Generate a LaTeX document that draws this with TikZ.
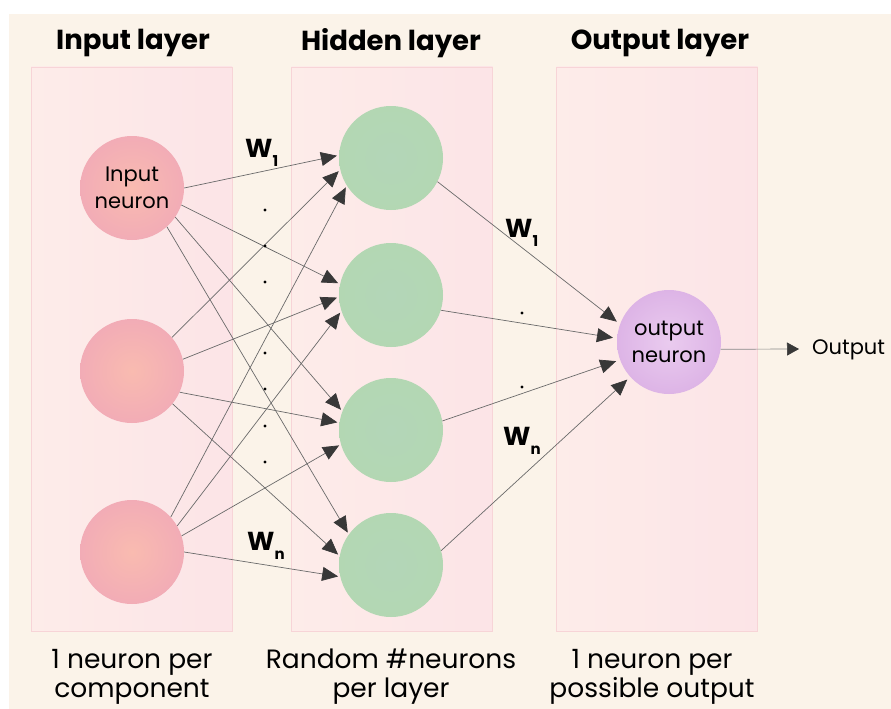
\documentclass[tikz,border=0pt]{standalone}
\usepackage{fontspec}
\setmainfont{Poppins}
\usetikzlibrary{arrows.meta}
\definecolor{bgc}{HTML}{FBF3E9}
\definecolor{panelL}{HTML}{FDECE9}
\definecolor{panelR}{HTML}{FCE4E7}
\definecolor{panelB}{HTML}{F7D4D7}
\definecolor{inIn}{HTML}{F9BBB0}
\definecolor{inOut}{HTML}{F2ACB6}
\definecolor{hidIn}{HTML}{B3D6B8}
\definecolor{hidOut}{HTML}{B3D7B3}
\definecolor{outIn}{HTML}{EACBEF}
\definecolor{outOut}{HTML}{DDB4E6}
\definecolor{linec}{HTML}{6A6A6A}
\definecolor{tipc}{HTML}{383838}
\begin{document}
\begin{tikzpicture}[x=1pt,y=-1pt,
  panel/.style={draw=panelB, line width=0.8pt, left color=panelL, right color=panelR,
    minimum width=201pt, minimum height=564pt, inner sep=0pt},
  neuron/.style={circle, minimum size=104pt, inner sep=0pt, align=center,
    font=\fontsize{21}{27}\selectfont},
  inneuron/.style={neuron, inner color=inIn, outer color=inOut},
  hidneuron/.style={neuron, inner color=hidIn, outer color=hidOut},
  outneuron/.style={neuron, inner color=outIn, outer color=outOut},
  title/.style={font=\fontsize{27.5}{30}\selectfont\bfseries},
  caption/.style={align=center, font=\fontsize{26.5}{29}\selectfont},
  wlab/.style={anchor=base west, inner sep=0pt, font=\fontsize{26}{26}\selectfont\bfseries},
  conn/.style={draw=linec, line width=0.7pt, -{Triangle[length=16pt,width=14pt,color=tipc]}, shorten >=2pt},
  dotm/.style={fill=black}
]
\useasboundingbox (0,0) rectangle (891,709);
\fill[white] (0,0) rectangle (891,709);
\fill[bgc] (9,14) rectangle (891,709);

% panels
\node[panel] (pin) at (131.5,349) {};
\node[panel] (phid) at (392,349) {};
\node[panel] (pout) at (657,349) {};

% titles
\node[title] (tin) at (133,43) {Input layer};
\node[title] (thid) at (391,43) {Hidden layer};
\node[title] (tout) at (660,43) {Output layer};

% captions
\node[caption] (cin) at (132,677) {1 neuron per\\component};
\node[caption] (chid) at (391,677) {Random \#neurons\\per layer};
\node[caption] (cout) at (652,677) {1 neuron per\\possible output};

% neurons
\node[inneuron] (i1) at (132,188) {Input\\neuron};
\node[inneuron] (i2) at (132,371) {};
\node[inneuron] (i3) at (132,552) {};
\node[hidneuron] (h1) at (391,158) {};
\node[hidneuron] (h2) at (391,295) {};
\node[hidneuron] (h3) at (391,430) {};
\node[hidneuron] (h4) at (391,565) {};
\node[outneuron] (o) at (669,342) {output\\neuron};

% input -> hidden
\draw[conn] (i1.0) -- (h1.177);
\draw[conn] (i1.-19) -- (h2.168);
\draw[conn] (i1.-34) -- (h3.159);
\draw[conn] (i1.-48) -- (h4.144);
\draw[conn] (i2.40) -- (h1.193);
\draw[conn] (i2.13) -- (h2.182);
\draw[conn] (i2.-24) -- (h3.172);
\draw[conn] (i2.-39) -- (h4.170);
\draw[conn] (i3.42) -- (h1.212);
\draw[conn] (i3.30) -- (h2.198);
\draw[conn] (i3.18) -- (h3.196);
\draw[conn] (i3.0) -- (h4.193);

% hidden -> output
\draw[conn, shorten >=4pt] (h1.-27) -- (o.160);
\draw[conn, shorten >=4pt] (h2.-17) -- (o.176);
\draw[conn, shorten >=4pt] (h3.10) -- (o.200);
\draw[conn, shorten >=4pt] (h4.16) -- (o.222);

% output arrow
\coordinate (outtip) at (799,349);
\draw[draw=linec!80, line width=0.7pt, -{Triangle[length=12pt,width=13pt,color=tipc]}] (o.-8) -- (outtip);
\node[anchor=west, inner sep=0pt, font=\fontsize{21}{24}\selectfont] (outlab) at (812,350) {Output};

% weight labels
\node[wlab] (w1a) at (245,157) {W\raisebox{-9pt}{\fontsize{15}{15}\selectfont 1}};
\node[wlab] (wna) at (247,550) {W\raisebox{-9pt}{\fontsize{15}{15}\selectfont n}};
\node[wlab] (w1b) at (505,237) {W\raisebox{-9pt}{\fontsize{15}{15}\selectfont 1}};
\node[wlab] (wnb) at (503,445) {W\raisebox{-9pt}{\fontsize{15}{15}\selectfont n}};

% dots
\foreach \yy in {210,246,282,353,389,426,462} \fill[dotm] (265,\yy) circle (1.6pt);
\foreach \yy in {313,387} \fill[dotm] (522,\yy) circle (1.6pt);
\end{tikzpicture}
\end{document}
